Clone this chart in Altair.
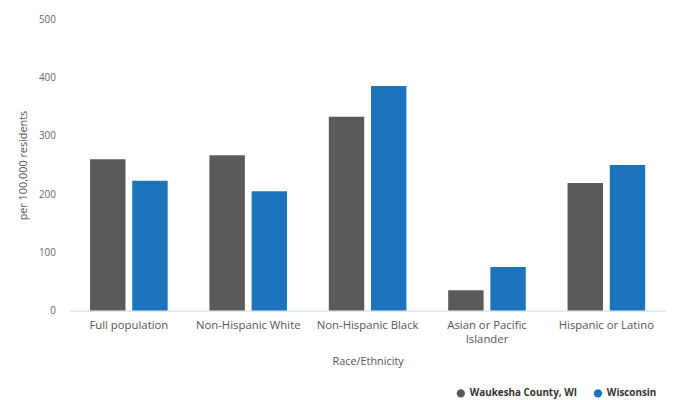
import altair as alt
import pandas as pd

categories = ["Full population", "Non-Hispanic White", "Non-Hispanic Black",
              "Asian or Pacific Islander", "Hispanic or Latino"]
series = ["Waukesha County, WI", "Wisconsin"]
waukesha = [260, 267, 333, 35, 219]
wisconsin = [223, 205, 386, 75, 250]
y_ticks = [0, 100, 200, 300, 400, 500]

rows = []
for c, a, b in zip(categories, waukesha, wisconsin):
    rows.append({"cat": c, "series": series[0], "value": a})
    rows.append({"cat": c, "series": series[1], "value": b})
df = pd.DataFrame(rows)

FONT = "Open Sans"

chart = alt.Chart(df).mark_bar().encode(
    x=alt.X("cat:N", sort=categories, title="Race/Ethnicity",
            scale=alt.Scale(paddingInner=0.35, paddingOuter=0.175),
            axis=alt.Axis(labelAngle=0, ticks=False, domain=True, domainColor="#ccd6eb",
                          labelPadding=9, labelFontSize=11.5, labelColor="#555555",
                          labelLineHeight=14,
                          labelFont=FONT, titleFont=FONT, titleFontSize=11,
                          titleFontWeight="normal", titleColor="#555555", titlePadding=11,
                          labelExpr="datum.label == 'Asian or Pacific Islander' ? ['Asian or Pacific', 'Islander'] : datum.label")),
    xOffset=alt.XOffset("series:N", sort=series,
                        scale=alt.Scale(paddingInner=0.16, paddingOuter=0)),
    y=alt.Y("value:Q", title="per 100,000 residents",
            scale=alt.Scale(domain=[0, 500], nice=False),
            axis=alt.Axis(values=y_ticks, grid=False, ticks=False, tickSize=0, domain=False,
                          labelPadding=14, labelFontSize=10, labelColor="#666666",
                          labelFont=FONT, titleFont=FONT, titleFontSize=11,
                          titleFontWeight="normal", titleColor="#555555", titlePadding=10)),
    color=alt.Color("series:N", sort=series,
                    scale=alt.Scale(domain=series, range=["#5a5a5a", "#1c75bc"]),
                    legend=alt.Legend(title=None, orient="none", legendX=392, legendY=374,
                                      direction="horizontal", symbolType="circle",
                                      symbolSize=70, labelFont=FONT, labelFontSize=10,
                                      labelFontWeight="bold", labelColor="#333333",
                                      symbolStrokeWidth=0, columnPadding=16)),
).properties(
    width=605,
    height=295,
    autosize=alt.AutoSizeParams(type="none"),
    padding={"left": 62, "top": 9, "right": 4, "bottom": 92},
).configure_view(stroke=None)

chart.save("out.html", embed_options={"renderer": "svg", "actions": False})
